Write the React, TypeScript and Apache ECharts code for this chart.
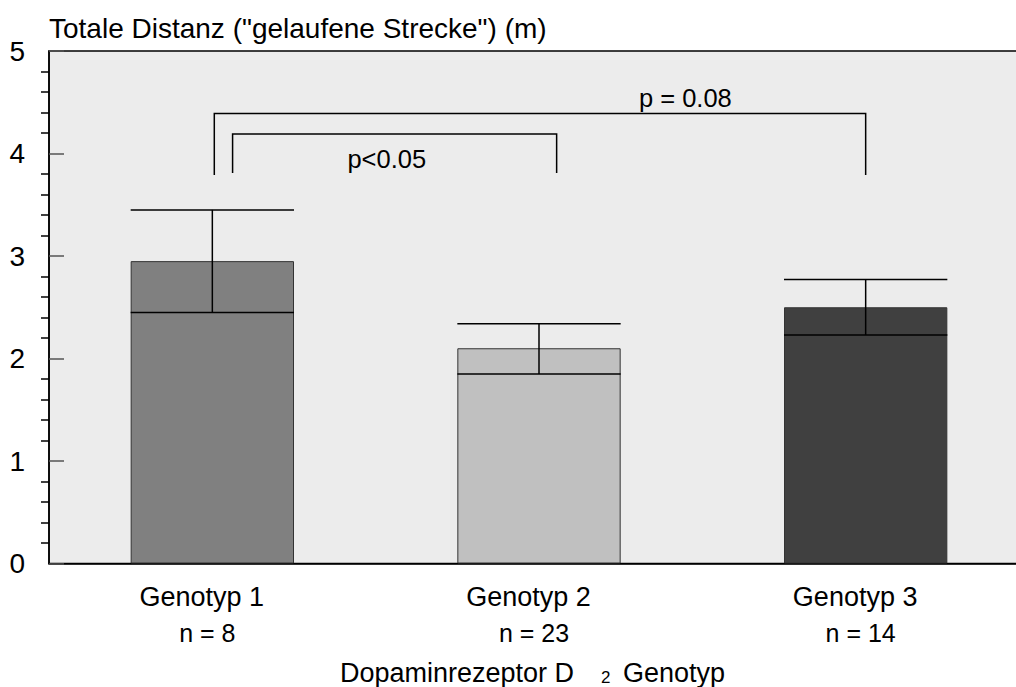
import React, { useEffect, useRef } from 'react';
import * as echarts from 'echarts';

const FONT = '"Liberation Sans", Arial, Helvetica, sans-serif';

const categories = ['Genotyp 1', 'Genotyp 2', 'Genotyp 3'];
const sampleSizes = [8, 23, 14];
const means = [2.95, 2.1, 2.5];
const lowerBounds = [2.45, 1.85, 2.23];
const upperBounds = [3.45, 2.34, 2.77];
const barColors = ['#808080', '#c0c0c0', '#404040'];

// Significance brackets (category index + shift in band units, heights in metres)
const bracketLeftCategory = [0, 0];
const bracketLeftShift = [0.062, 0.006];
const bracketRightCategory = [1, 2];
const bracketRightShift = [0.054, 0.0];
const bracketTop = [4.19, 4.39];
const bracketFoot = [3.81, 3.79];
const pLabels = ['p<0.05', 'p = 0.08'];
const pLabelPos = [0.534, 1.448];
const pLabelHeight = [3.95, 4.54];

const yAxisTitle = 'Totale Distanz ("gelaufene Strecke") (m)';
const xAxisTitleMain = 'Dopaminrezeptor D';
const xAxisTitleSub = '2';
const xAxisTitleTail = 'Genotyp';

export default function App() {
  const ref = useRef<HTMLDivElement>(null);

  useEffect(() => {
    if (!ref.current) return;
    const chart = echarts.init(ref.current, undefined, { renderer: 'svg' });

    const errorData = categories.map((_, i) => [i, lowerBounds[i], upperBounds[i]]);
    const bracketData = pLabels.map((_, i) => [
      bracketLeftCategory[i],
      bracketLeftShift[i],
      bracketRightCategory[i],
      bracketRightShift[i],
      bracketTop[i],
      bracketFoot[i],
      pLabelPos[i],
      pLabelHeight[i],
    ]);

    chart.setOption({
      animation: false,
      grid: {
        left: 49,
        top: 51,
        width: 980,
        height: 512.5,
        show: true,
        backgroundColor: '#ececec',
        borderColor: '#000',
        borderWidth: 1.5,
      },
      xAxis: {
        type: 'category',
        data: categories,
        axisLine: { show: true, lineStyle: { color: '#000', width: 1.5 } },
        axisTick: { show: false },
        splitLine: { show: false },
        axisLabel: {
          margin: 15,
          interval: 0,
          formatter: (value: string, idx: number) =>
            `{g|${value}}\n{n|n = ${sampleSizes[idx]}}`,
          rich: {
            g: { fontSize: 27, fontFamily: FONT, color: '#000', lineHeight: 36, padding: [0, 21, 0, 0] },
            n: { fontSize: 25, fontFamily: FONT, color: '#000', lineHeight: 36, padding: [0, 10, 0, 0] },
          },
        },
      },
      yAxis: {
        type: 'value',
        min: 0,
        max: 5,
        interval: 1,
        axisLine: { show: true, lineStyle: { color: '#000', width: 1.5 } },
        axisTick: { show: true, inside: true, length: 15, lineStyle: { color: '#555', width: 1.5 } },
        minorTick: { show: true, splitNumber: 5, length: -8, lineStyle: { color: '#000', width: 1.5 } },
        splitLine: { show: false },
        minorSplitLine: { show: false },
        axisLabel: { color: '#000', fontSize: 28, fontFamily: FONT, margin: 24 },
      },
      graphic: [
        {
          type: 'text',
          left: 49,
          top: 14,
          style: { text: yAxisTitle, font: `28px ${FONT}`, fill: '#000' },
        },
        {
          type: 'text',
          x: 340,
          y: 686,
          style: { text: xAxisTitleMain, font: `27px ${FONT}`, fill: '#000', verticalAlign: 'bottom' },
        },
        {
          type: 'text',
          x: 601,
          y: 686,
          style: { text: xAxisTitleSub, font: `17px ${FONT}`, fill: '#000', verticalAlign: 'bottom' },
        },
        {
          type: 'text',
          x: 623,
          y: 686,
          style: { text: xAxisTitleTail, font: `27px ${FONT}`, fill: '#000', verticalAlign: 'bottom' },
        },
      ],
      series: [
        {
          type: 'bar',
          barWidth: '50%',
          data: means.map((v, i) => ({
            value: v,
            itemStyle: { color: barColors[i], borderColor: '#333', borderWidth: 1 },
          })),
          z: 2,
        },
        {
          type: 'custom',
          z: 3,
          data: errorData,
          encode: { x: 0, y: [1, 2] },
          renderItem: (params: any, api: any) => {
            const idx = api.value(0);
            const lo = api.coord([idx, api.value(1)]);
            const hi = api.coord([idx, api.value(2)]);
            const half = api.size([1, 0])[0] * 0.25;
            const style = { stroke: '#000', lineWidth: 1.5 };
            return {
              type: 'group',
              children: [
                { type: 'line', shape: { x1: lo[0], y1: lo[1], x2: hi[0], y2: hi[1] }, style },
                { type: 'line', shape: { x1: hi[0] - half, y1: hi[1], x2: hi[0] + half, y2: hi[1] }, style },
                { type: 'line', shape: { x1: lo[0] - half, y1: lo[1], x2: lo[0] + half, y2: lo[1] }, style },
              ],
            };
          },
        },
        {
          type: 'custom',
          z: 3,
          data: bracketData,
          encode: { x: 0, y: 4 },
          renderItem: (params: any, api: any) => {
            const band = api.size([1, 0])[0];
            const left = api.coord([api.value(0), api.value(4)]);
            const right = api.coord([api.value(2), api.value(4)]);
            const xl = left[0] + api.value(1) * band;
            const xr = right[0] + api.value(3) * band;
            const yTop = left[1];
            const yFoot = api.coord([0, api.value(5)])[1];
            const lab = api.coord([0, api.value(7)]);
            const lx = lab[0] + api.value(6) * band;
            return {
              type: 'group',
              children: [
                {
                  type: 'polyline',
                  shape: { points: [[xl, yFoot], [xl, yTop], [xr, yTop], [xr, yFoot]] },
                  style: { stroke: '#000', lineWidth: 1.5, fill: 'none' },
                },
                {
                  type: 'text',
                  x: lx,
                  y: lab[1],
                  style: {
                    text: pLabels[params.dataIndex],
                    font: `25.5px ${FONT}`,
                    fill: '#000',
                    align: 'center',
                    verticalAlign: 'middle',
                  },
                },
              ],
            };
          },
        },
      ],
    });

    return () => chart.dispose();
  }, []);

  return (
    <div style={{ position: 'absolute', left: 0, top: 0, width: 1016, height: 687, overflow: 'hidden', background: '#fff' }}>
      <div ref={ref} style={{ width: 1040, height: 687 }} />
    </div>
  );
}
